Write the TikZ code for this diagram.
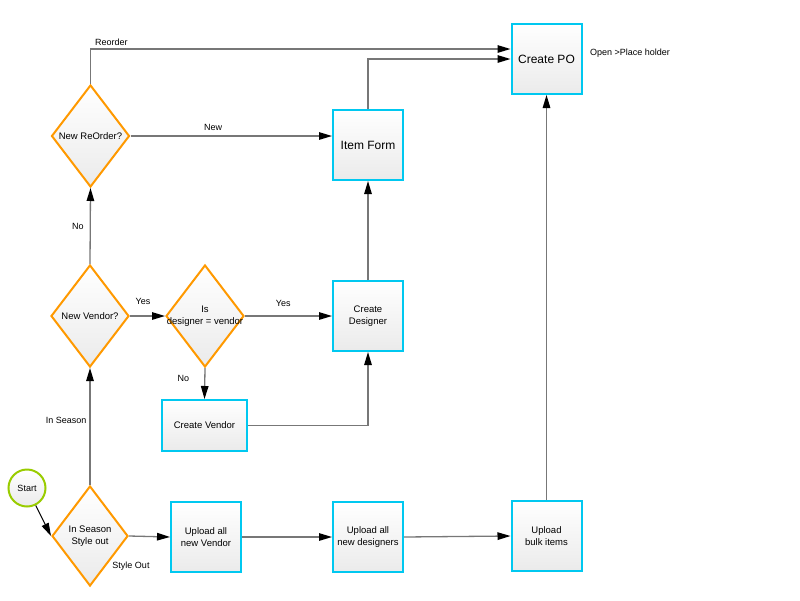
\documentclass[tikz,border=0pt]{standalone}
\usepackage{fontspec}
\setmainfont{Liberation Sans}
\usetikzlibrary{shapes.geometric,arrows.meta}
\definecolor{boxc}{HTML}{00C8F0}
\definecolor{decc}{HTML}{FF9900}
\definecolor{startc}{HTML}{99CC00}
\definecolor{linec}{HTML}{777777}
\tikzset{
 box/.style={draw=boxc, line width=2pt, minimum width=70pt, minimum height=70pt, inner sep=0pt,
   top color=white, bottom color=black!8, font=\fontsize{9.5}{11.5}\selectfont, align=center},
 dec/.style={diamond, draw=decc, line width=2pt, minimum width=78pt, minimum height=102pt, inner sep=0pt,
   top color=white, bottom color=black!8},
 dtext/.style={font=\fontsize{9.5}{11.5}\selectfont, align=center, inner sep=0pt},
 conn/.style={draw=linec, line width=1.3pt, -{Triangle[length=13pt,width=7.5pt,color=black]}},
 lbl/.style={font=\fontsize{9}{11}\selectfont, inner sep=1pt},
}
\begin{document}
\begin{tikzpicture}[x=1pt,y=-1pt]
\useasboundingbox (0,0) rectangle (800,600);
% decisions
\node[dec, label={[dtext]center:New ReOrder?}] (reo) at (90.5,136) {};
\node[dec, label={[dtext]center:New Vendor?}] (nv) at (90,316) {};
\node[dec, label={[dtext]center:Is\\designer = vendor}] (isd) at (205,316) {};
\node[dec, minimum width=76pt, minimum height=100pt, label={[dtext]center:In Season\\Style out}] (iss) at (90,536) {};
% boxes
\node[box, font=\fontsize{12}{14}\selectfont] (po) at (546.5,59) {Create PO};
\node[box, font=\fontsize{12}{14}\selectfont] (item) at (368,145) {Item Form};
\node[box] (cd) at (368,316) {Create\\Designer};
\node[box, minimum width=85pt, minimum height=51pt] (cv) at (204.5,425.5) {Create Vendor};
\node[box] (unv) at (206,537) {Upload all\\new Vendor};
\node[box] (und) at (368,537) {Upload all\\new designers};
\node[box] (ubi) at (546.5,536) {Upload\\bulk items};
\node[circle, draw=startc, line width=2pt, minimum size=37pt, inner sep=0pt,
  top color=white, bottom color=black!8, font=\fontsize{9}{11}\selectfont] (start) at (27,488) {Start};
% free texts
\node[lbl, anchor=west] (ph) at (589,53) {Open >Place holder};
\node[lbl] (so) at (131,566) {Style Out};
% connectors
\draw[conn, draw=black, line width=1pt] (start) -- (iss.west);
\draw[conn] (iss.north) -- node[lbl, left=2pt, pos=0.55] {In Season} (nv.south);
\draw[conn] (nv.north) -- node[lbl, left=5pt, pos=0.5] {No} (reo.south);
\draw[conn] (reo.north) |- node[lbl, pos=0.5, anchor=south west, xshift=3pt, yshift=2pt] {Reorder} ([yshift=10pt]po.west);
\draw[conn] (reo.east) -- node[lbl, above=4pt, pos=0.41] {New} (item.west |- reo.east);
\draw[conn] (item.north) |- (po.west);
\draw[conn] (nv.east) -- node[lbl, above=10pt, pos=0.37] {Yes} (isd.west);
\draw[conn] (isd.east) -- node[lbl, above=8pt, pos=0.44] {Yes} (cd.west);
\draw[conn] (isd.south) -- node[lbl, left=14pt, pos=0.33] {No} (cv.north);
\draw[conn] (cv.east) -| (cd.south);
\draw[conn] (cd.north) -- (item.south);
\draw[conn] (iss.east) -- (unv.west);
\draw[conn] (unv.east) -- (und.west);
\draw[conn] (und.east) -- (ubi.west);
\draw[conn] (ubi.north) -- (po.south);
\end{tikzpicture}
\end{document}
